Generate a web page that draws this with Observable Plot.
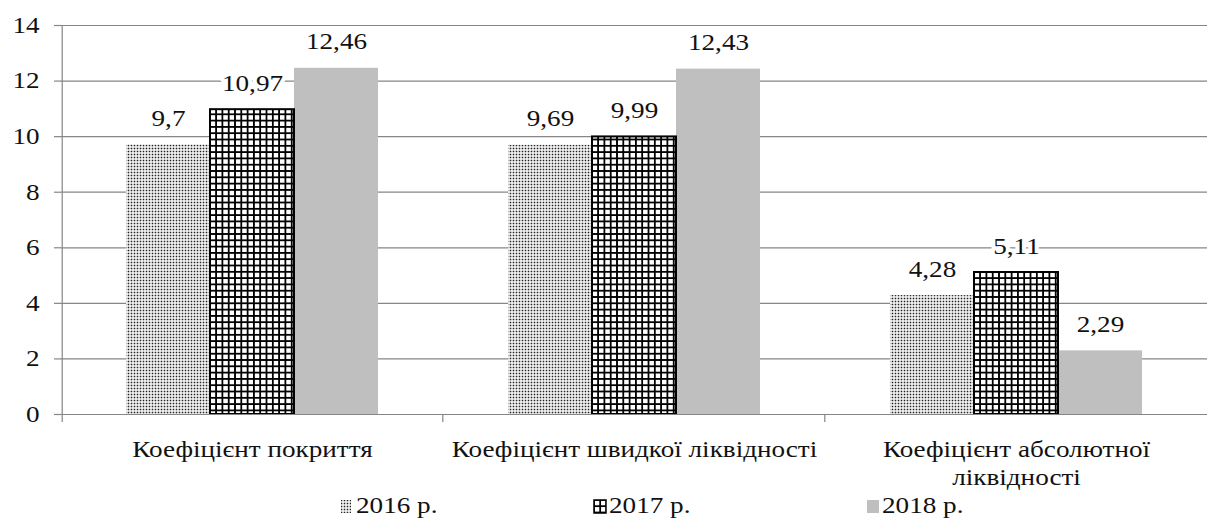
<!DOCTYPE html>
<html><head><meta charset="utf-8">
<script src="https://cdn.jsdelivr.net/npm/d3@7"></script>
<script src="https://cdn.jsdelivr.net/npm/@observablehq/plot@0.6"></script>
<style>
body{margin:0;background:#fff;}
#chart svg{display:block;}
#chart svg text{font-family:"Liberation Serif","Times New Roman",Times,serif;}
#legend{position:relative;width:1212px;height:33px;font-family:"Liberation Serif","Times New Roman",Times,serif;font-size:23px;color:#111;}
#legend .sw{position:absolute;}
#legend .lb{position:absolute;top:2px;display:inline-block;transform:scaleX(1.18);transform-origin:0 50%;white-space:nowrap;line-height:28px;}
</style></head><body>
<div id="chart"></div>
<div id="legend"></div>
<script>
const categories = ["Коефіцієнт покриття", "Коефіцієнт швидкої ліквідності", "Коефіцієнт абсолютної ліквідності"];
const years = ["2016 р.", "2017 р.", "2018 р."];
const values2016 = [9.7, 9.69, 4.28];
const values2017 = [10.97, 9.99, 5.11];
const values2018 = [12.46, 12.43, 2.29];
const yTicks = [0, 2, 4, 6, 8, 10, 12, 14];

const seriesValues = [values2016, values2017, values2018];
const data = categories.flatMap((c, i) => years.map((y, j) => ({category: c, year: y, value: seriesValues[j][i]})));
const fmt = v => String(v).replace(".", ",");
const wrap = c => c.length > 31 ? c.replace(/ (\S+)$/, "\n$1") : c;
const GRAY = "#868686";
const SERIF = "'Liberation Serif', 'Times New Roman', Times, serif";
const halfOuter = 42.5 + 63.8;

const plot = Plot.plot({
  width: 1212, height: 490,
  marginLeft: 60, marginRight: 4, marginTop: 25, marginBottom: 76,
  style: {fontFamily: SERIF, fontSize: "23px", color: "#111", background: "#fff", overflow: "visible"},
  fx: {domain: categories, padding: 0, label: null},
  x: {domain: years, paddingInner: 0, paddingOuter: 0.75, axis: null},
  y: {domain: [0, 14], label: null},
  color: {domain: years, range: ["url(#dots)", "url(#grid)", "#bfbfbf"]},
  marks: [
    Plot.gridY(yTicks.slice(1), {stroke: GRAY, strokeOpacity: 1, strokeWidth: 1.2}),
    Plot.axisY(yTicks, {tickSize: 7, tickPadding: 15, stroke: GRAY, strokeWidth: 1.2, label: null, fontSize: 23, fontFamily: SERIF, tickFormat: d => String(d)}),
    Plot.axisFx({anchor: "bottom", tickSize: 0, tickPadding: 23, label: null, tickFormat: wrap, lineHeight: 1.22, fontSize: 23, fontFamily: SERIF}),
    Plot.barY(data, {fx: "category", x: "year", y: "value", fill: "year"}),
    Plot.barY(data.filter(d => d.year === years[1]), {fx: "category", x: "year", y: "value", fill: "none", stroke: "#000", strokeWidth: 2}),
    Plot.ruleY([0], {stroke: GRAY, strokeWidth: 1.2}),
    Plot.ruleX([{category: categories[0]}], {fx: "category", x: () => years[0], dx: -halfOuter, insetBottom: -8, stroke: GRAY, strokeWidth: 1.2}),
    Plot.ruleX(categories.slice(0, 2).map(c => ({category: c})), {fx: "category", x: () => years[2], dx: halfOuter, insetTop: 389, insetBottom: -8, stroke: GRAY, strokeWidth: 1.2}),
    Plot.text(data, {fx: "category", x: "year", y: "value", text: d => fmt(d.value), lineAnchor: "bottom", dy: -19, fontSize: 23, fontFamily: SERIF, fill: "#111", stroke: "#fff", strokeWidth: 7})
  ]
});

const svgNS = "http://www.w3.org/2000/svg";
const defs = document.createElementNS(svgNS, "defs");
defs.innerHTML = `
<pattern id="dots" patternUnits="userSpaceOnUse" width="3" height="3">
  <rect width="3" height="3" fill="#fff"/>
  <rect x="0.7" y="0.7" width="1.6" height="1.6" fill="#222"/>
</pattern>
<pattern id="grid" patternUnits="userSpaceOnUse" width="6.3" height="6.3">
  <rect width="6.3" height="6.3" fill="#fff"/>
  <rect x="0" y="0" width="6.3" height="1.8" fill="#000"/>
  <rect x="0" y="0" width="1.8" height="6.3" fill="#000"/>
</pattern>`;
plot.prepend(defs);
document.getElementById("chart").appendChild(plot);

// horizontally widen text to match the reference's stretched serif
plot.querySelectorAll("text").forEach(t => {
  const tspans = t.querySelectorAll("tspan");
  const targets = tspans.length ? [...tspans] : [t];
  targets.forEach(el => {
    const len = el.getComputedTextLength();
    if (len > 0) {
      el.setAttribute("textLength", (len * 1.18).toFixed(1));
      el.setAttribute("lengthAdjust", "spacingAndGlyphs");
    }
  });
});

// legend
const legend = document.getElementById("legend");
const legendFills = ["url(#dots)", "url(#grid)", "#bfbfbf"];
const legendSwatchX = [340, 593, 866];
years.forEach((y, i) => {
  const sw = document.createElementNS(svgNS, "svg");
  sw.setAttribute("class", "sw");
  sw.setAttribute("width", 14); sw.setAttribute("height", 16);
  sw.style.left = legendSwatchX[i] + "px";
  sw.style.top = "9px";
  const w = i === 0 ? 10 : 12;
  sw.innerHTML = `<rect x="1" y="1" width="${w}" height="13" fill="${legendFills[i]}" ${i === 1 ? 'stroke="#000" stroke-width="1.5"' : ''}/>`;
  legend.appendChild(sw);
  const lb = document.createElement("span");
  lb.className = "lb";
  lb.textContent = y;
  lb.style.left = (legendSwatchX[i] + 16) + "px";
  legend.appendChild(lb);
});
</script>
</body></html>
